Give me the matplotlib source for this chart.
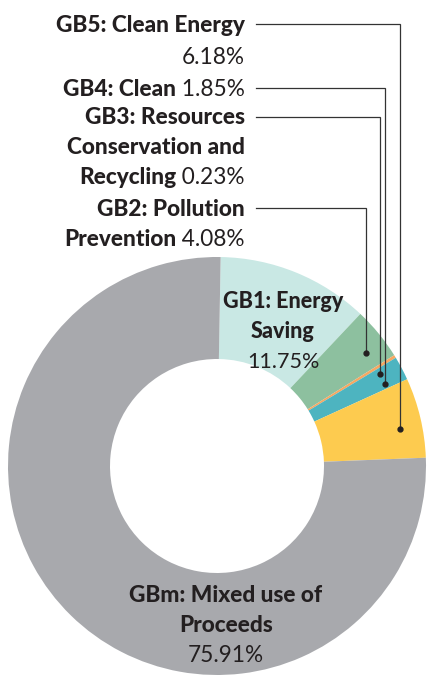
import numpy as np
import matplotlib
matplotlib.use('Agg')
import matplotlib.pyplot as plt

plt.rcParams['font.family'] = ['Lato', 'DejaVu Sans']

# data
codes = ['GB1', 'GB2', 'GB3', 'GB4', 'GB5', 'GBm']
names = ['Energy Saving', 'Pollution Prevention', 'Resources Conservation and Recycling',
         'Clean', 'Clean Energy', 'Mixed use of Proceeds']
shares = [11.75, 4.08, 0.23, 1.85, 6.18, 75.91]
colors = ['#c9e8e4', '#8dc09f', '#f6a862', '#4db4c0', '#fdcb4f', '#a8a9ad']

INK = '#231f20'
LEAD = '#333333'
W, H = 429, 675
CX, CY, R, R_IN = 217, 209, 209, 107
FS = 16.3

fig = plt.figure(figsize=(W / 100, H / 100), dpi=100, facecolor='white')
ax = fig.add_axes([0, 0, 1, 1])
wedges, _ = ax.pie(shares, colors=colors, startangle=89, counterclock=False,
                   radius=R, center=(CX, CY),
                   wedgeprops=dict(width=R - R_IN, linewidth=0))
ax.set_xlim(0, W)
ax.set_ylim(0, H)
ax.set_aspect('equal')
ax.axis('off')

renderer = fig.canvas.get_renderer()
pct = {c: f'{v:.2f}%' for c, v in zip(codes, shares)}


def py(y):
    # pixel row (from top) -> data y, baseline of caps
    return H - (y + 7.5)


def line(x, y, bold, light, ha='right', fs=FS):
    """one text row: bold part + light part, right aligned at x"""
    if ha == 'right':
        if light:
            t = ax.text(x, py(y), light, fontsize=fs, color=INK, ha='right', va='baseline')
            bb = t.get_window_extent(renderer)
            x = ax.transData.inverted().transform((bb.x0, 0))[0]
        if bold:
            ax.text(x, py(y), bold, fontsize=fs, color=INK, ha='right', va='baseline',
                    fontweight='black')
    else:
        ax.text(x, py(y), bold or light, fontsize=fs, color=INK, ha='center', va='baseline',
                fontweight='black' if bold else 'normal')


# labels on the left top
LX = 245
line(LX, 24, f'{codes[4]}: {names[4]}', '')
line(LX, 56, '', pct['GB5'])
line(LX, 88, f'{codes[3]}: {names[3]}', ' ' + pct['GB4'])
line(LX, 117, f'{codes[2]}: Resources', '')
line(LX, 147, 'Conservation and', '')
line(LX, 176, 'Recycling', ' ' + pct['GB3'])
line(LX, 208, f'{codes[1]}: Pollution', '')
line(LX, 238, 'Prevention', ' ' + pct['GB2'])

# leaders: label row -> dot inside wedge
lead_rows = {1: 208, 2: 117, 3: 88, 4: 24}
for i, row in lead_rows.items():
    w = wedges[i]
    th = np.deg2rad((w.theta1 + w.theta2) / 2 - 2)
    dx = CX + 0.895 * R * np.cos(th)
    dy = CY + 0.895 * R * np.sin(th)
    yl = H - row
    ax.plot([256, dx, dx], [yl, yl, dy], color=LEAD, lw=0.9, solid_joinstyle='miter')
    ax.plot(dx, dy, 'o', color=INK, ms=3.5)

# labels inside the ring
line(283, 300, f'{codes[0]}: Energy', '', ha='center', fs=15.5)
line(283, 330, 'Saving', '', ha='center', fs=15.5)
line(283, 360, '', pct['GB1'], ha='center', fs=15.5)
line(226, 595, f'{codes[5]}: Mixed use of', '', ha='center')
line(226, 625, 'Proceeds', '', ha='center')
line(226, 655, '', pct['GBm'], ha='center')

fig.savefig('out.png', dpi=100, facecolor='white')
plt.close(fig)
